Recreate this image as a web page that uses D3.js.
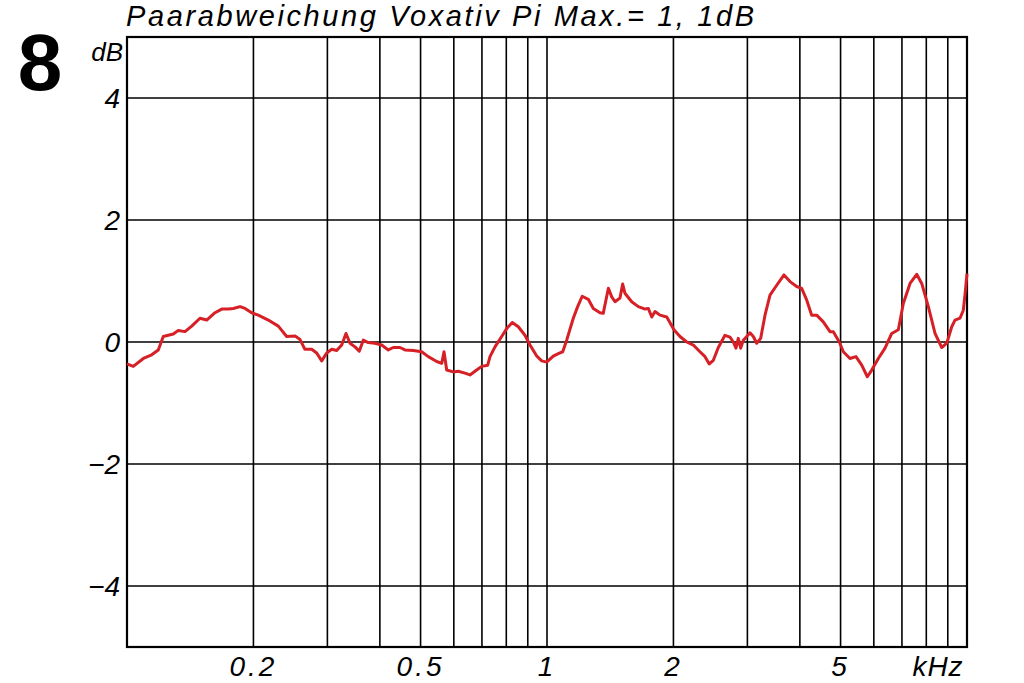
<!DOCTYPE html>
<html>
<head>
<meta charset="utf-8">
<script src="https://cdn.jsdelivr.net/npm/d3@7"></script>
<style>
  html, body { margin: 0; padding: 0; background: #fff; }
  svg { display: block; }
  .lbl { font-family: "Liberation Sans", Arial, sans-serif; font-style: italic; fill: #000; }
</style>
</head>
<body>
<svg id="chart" width="1024" height="683"></svg>
<script>
  const title = "Paarabweichung Voxativ Pi Max.= 1, 1dB";
  const panelNumber = "8";

  // frequency in kHz, deviation in dB
  const freqs = [
    0.100, 0.1035, 0.1094, 0.1145, 0.1187, 0.1220, 0.1254, 0.1289, 0.1325, 0.1374,
    0.1426, 0.1492, 0.1548, 0.1620, 0.1681, 0.1743, 0.1791, 0.1858, 0.1910, 0.1981,
    0.2054, 0.2170, 0.2292, 0.2400, 0.2512, 0.2582, 0.2653, 0.2753, 0.2829, 0.2908,
    0.2989, 0.3072, 0.3157, 0.3245, 0.3322, 0.3396, 0.3490, 0.3573, 0.3652, 0.3753,
    0.3894, 0.4040, 0.4189, 0.4305, 0.4467, 0.4591, 0.4806, 0.5030, 0.5216, 0.5462,
    0.5615, 0.5686, 0.5770, 0.5982, 0.6148, 0.6378, 0.6555, 0.6800, 0.6990, 0.7224,
    0.7316, 0.7519, 0.7800, 0.8017, 0.8268, 0.8543, 0.8862, 0.9111, 0.9451, 0.9714,
    0.9984, 1.035, 1.064, 1.090, 1.114, 1.155, 1.183, 1.213, 1.254, 1.289,
    1.337, 1.361, 1.400, 1.426, 1.452, 1.492, 1.514, 1.533, 1.591, 1.650,
    1.712, 1.743, 1.776, 1.808, 1.858, 1.928, 2.006, 2.073, 2.151, 2.231,
    2.313, 2.378, 2.434, 2.489, 2.558, 2.653, 2.727, 2.777, 2.818, 2.854,
    2.892, 2.934, 2.989, 3.043, 3.099, 3.157, 3.227, 3.304, 3.396, 3.523,
    3.667, 3.790, 3.931, 4.040, 4.152, 4.268, 4.386, 4.548, 4.718, 4.805,
    4.966, 5.076, 5.265, 5.441, 5.615, 5.790, 5.932, 6.150, 6.380, 6.619,
    6.863, 7.053, 7.318, 7.591, 7.802, 8.090, 8.392, 8.707, 8.949, 9.197,
    9.363, 9.623, 9.799, 9.900, 10.00
  ];
  const deviation = [
    -0.36, -0.40, -0.27, -0.21, -0.13, 0.09, 0.11, 0.13, 0.19, 0.17,
    0.26, 0.39, 0.36, 0.48, 0.54, 0.54, 0.55, 0.58, 0.55, 0.48,
    0.44, 0.36, 0.26, 0.09, 0.10, 0.04, -0.12, -0.12, -0.18, -0.31,
    -0.18, -0.12, -0.14, -0.05, 0.14, -0.02, -0.08, -0.15, 0.03, -0.01,
    -0.02, -0.05, -0.13, -0.09, -0.09, -0.13, -0.14, -0.16, -0.24, -0.32,
    -0.35, -0.16, -0.46, -0.49, -0.48, -0.51, -0.54, -0.46, -0.40, -0.38,
    -0.24, -0.08, 0.09, 0.22, 0.32, 0.25, 0.11, -0.05, -0.23, -0.31,
    -0.33, -0.23, -0.19, -0.16, 0.03, 0.39, 0.58, 0.75, 0.70, 0.55,
    0.48, 0.47, 0.88, 0.74, 0.66, 0.72, 0.95, 0.80, 0.66, 0.58,
    0.54, 0.55, 0.41, 0.50, 0.44, 0.41, 0.20, 0.09, 0.00, -0.05,
    -0.16, -0.24, -0.36, -0.30, -0.09, 0.11, 0.08, 0.00, -0.10, 0.06,
    -0.10, 0.03, 0.09, 0.15, 0.09, -0.02, 0.06, 0.44, 0.77, 0.93,
    1.10, 0.99, 0.91, 0.88, 0.69, 0.44, 0.44, 0.33, 0.17, 0.17,
    0.00, -0.16, -0.27, -0.24, -0.38, -0.57, -0.46, -0.27, -0.10, 0.14,
    0.20, 0.63, 0.96, 1.11, 0.96, 0.58, 0.14, -0.09, -0.02, 0.25,
    0.36, 0.39, 0.52, 0.80, 1.12
  ];

  const xGrid = [0.2, 0.3, 0.4, 0.5, 0.6, 0.7, 0.8, 0.9, 1, 2, 3, 4, 5, 6, 7, 8, 9];
  const xLabels = [0.2, 0.5, 1, 2, 5];
  const yGrid = [-4, -2, 0, 2, 4];
  const xUnit = "kHz";
  const yUnit = "dB";

  (function () {
    const plotLeft = 127, plotRight = 967, plotTop = 37, plotBottom = 647;
    const svg = d3.select("#chart");

    const x = d3.scaleLog().domain([0.1, 10]).range([plotLeft, plotRight]);
    const y = d3.scaleLinear().domain([-5, 5]).range([plotBottom, plotTop]);

    // grid
    svg.append("g")
      .selectAll("line")
      .data(xGrid)
      .join("line")
      .attr("x1", (d) => x(d)).attr("x2", (d) => x(d))
      .attr("y1", plotTop).attr("y2", plotBottom)
      .attr("stroke", "#000").attr("stroke-width", 1.6);

    svg.append("g")
      .selectAll("line")
      .data(yGrid)
      .join("line")
      .attr("x1", plotLeft).attr("x2", plotRight)
      .attr("y1", (d) => y(d)).attr("y2", (d) => y(d))
      .attr("stroke", "#000").attr("stroke-width", 1.6);

    svg.append("rect")
      .attr("x", plotLeft).attr("y", plotTop)
      .attr("width", plotRight - plotLeft).attr("height", plotBottom - plotTop)
      .attr("fill", "none").attr("stroke", "#000").attr("stroke-width", 2.2);

    // curve
    const line = d3.line()
      .x((d) => x(d[0]))
      .y((d) => y(d[1]));

    svg.append("path")
      .datum(freqs.map((f, i) => [f, deviation[i]]))
      .attr("d", line)
      .attr("fill", "none")
      .attr("stroke", "#d71f26")
      .attr("stroke-width", 3)
      .attr("stroke-linejoin", "round");

    // y labels
    svg.append("g")
      .selectAll("text")
      .data(yGrid)
      .join("text")
      .attr("class", "lbl")
      .attr("x", 120)
      .attr("y", (d) => y(d) + 10)
      .attr("text-anchor", "end")
      .attr("font-size", 28)
      .text((d) => (d < 0 ? "\u2212" + Math.abs(d) : d));

    svg.append("text")
      .attr("class", "lbl")
      .attr("x", 123).attr("y", 61)
      .attr("text-anchor", "end")
      .attr("font-size", 26)
      .text(yUnit);

    // x labels
    svg.append("g")
      .selectAll("text")
      .data(xLabels)
      .join("text")
      .attr("class", "lbl")
      .attr("x", (d) => x(d))
      .attr("y", 676)
      .attr("text-anchor", "middle")
      .attr("font-size", 28)
      .attr("letter-spacing", 3)
      .text((d) => d);

    svg.append("text")
      .attr("class", "lbl")
      .attr("x", 938).attr("y", 676)
      .attr("text-anchor", "middle")
      .attr("font-size", 28)
      .attr("letter-spacing", 1)
      .text(xUnit);

    // title and panel number
    svg.append("text")
      .attr("class", "lbl")
      .attr("x", 126).attr("y", 26)
      .attr("font-size", 29)
      .attr("textLength", 628)
      .attr("lengthAdjust", "spacing")
      .text(title);

    svg.append("text")
      .attr("x", 40).attr("y", 90)
      .attr("text-anchor", "middle")
      .attr("font-family", "'Liberation Sans', Arial, sans-serif")
      .attr("font-weight", "bold")
      .attr("font-size", 80)
      .text(panelNumber);
  })();
</script>
</body>
</html>
